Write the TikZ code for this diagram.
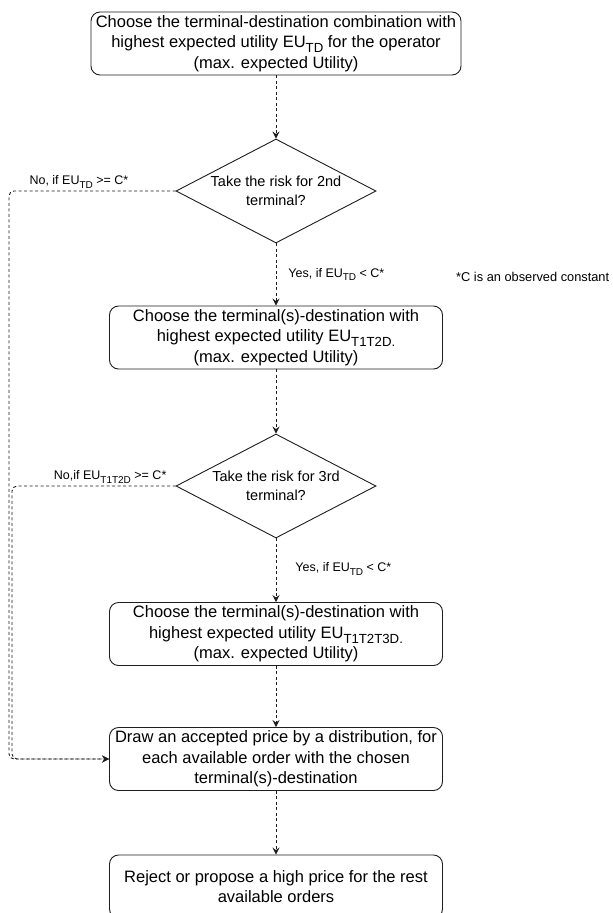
\documentclass[tikz,border=0pt]{standalone}
\usepackage{fontspec}
\setmainfont{Liberation Sans}
\usetikzlibrary{arrows.meta,shapes.geometric}
\definecolor{linegray}{RGB}{30,30,30}
\newcommand\dsub[1]{\raisebox{-0.55ex}{\scalebox{0.8}{#1}}}

\begin{document}
\begin{tikzpicture}[x=1pt,y=-1pt,
    stepbox/.style={draw=linegray,line width=0.9pt,rounded corners=9pt,
      minimum width=333pt,minimum height=63pt,inner sep=0pt,align=center,
      font=\fontsize{16.5}{20.5}\selectfont},
    decision/.style={draw=linegray,line width=0.9pt,shape=diamond,
      minimum width=200pt,minimum height=104pt,inner sep=0pt},
    qtext/.style={align=center,inner sep=0pt,font=\fontsize{14.5}{19}\selectfont},
    flow/.style={draw=linegray,line width=0.9pt,dash pattern=on 3pt off 2.5pt,
      -{Stealth[length=7pt,width=7pt,inset=2.5pt]}},
    cond/.style={inner sep=2pt,font=\fontsize{12.5}{15}\selectfont}]
  \path[use as bounding box,fill=white] (0,0) rectangle (613,913);
  % Steps and decisions
  \node[stepbox,minimum width=370pt] (choose1) at (276,43.5)
    {Choose the terminal-destination combination with\\
     highest expected utility EU\dsub{TD} for the operator\\
     (max. expected Utility)};
  \node[decision] (risk2) at (276,191) {};
  \node[qtext] (risk2txt) at (risk2.center) {Take the risk for 2nd\\terminal?};
  \node[stepbox] (choose2) at (276,337.5)
    {Choose the terminal(s)-destination with\\
     highest expected utility EU\dsub{T1T2D.}\\
     (max. expected Utility)};
  \node[decision] (risk3) at (276,486) {};
  \node[qtext] (risk3txt) at (risk3.center) {Take the risk for 3rd\\terminal?};
  \node[stepbox] (choose3) at (276,634)
    {Choose the terminal(s)-destination with\\
     highest expected utility EU\dsub{T1T2T3D.}\\
     (max. expected Utility)};
  \node[stepbox] (price) at (276,759)
    {Draw an accepted price by a distribution, for\\
     each available order with the chosen\\
     terminal(s)-destination};
  \node[stepbox] (reject) at (276,886.5)
    {Reject or propose a high price for the rest\\available orders};
  \node[cond,anchor=west,font=\fontsize{12.8}{15}\selectfont] (note) at (454,277)
    {*C is an observed constant};
  % Main flow
  \foreach \a/\b in {choose1/risk2,choose2/risk3,choose3/price,price/reject}
    \draw[flow] (\a) -- (\b);
  \draw[flow] (risk2) -- node[cond,anchor=west,xshift=10pt]
    {Yes, if EU\dsub{TD} < C*} (choose2);
  \draw[flow] (risk3) -- node[cond,anchor=west,xshift=17pt,yshift=1pt]
    {Yes, if EU\dsub{TD} < C*} (choose3);
  % Side lanes
  \coordinate (laneA) at (9,0);
  \coordinate (laneB) at (12,0);
  \draw[flow,rounded corners=5pt] (risk2.west)
    -- node[cond,above,pos=0.58] {No, if EU\dsub{TD} >= C*} (risk2.west -| laneA)
    -- (laneA |- price.west) -- (price.west);
  \draw[flow,rounded corners=5pt] (risk3.west)
    -- node[cond,above,pos=0.40] {No,if EU\dsub{T1T2D} >= C*} (risk3.west -| laneB)
    -- (laneB |- price.west) -- (price.west);
\end{tikzpicture}
\end{document}
